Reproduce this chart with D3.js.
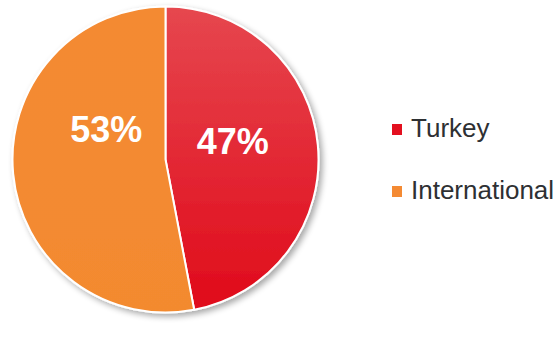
<!DOCTYPE html>
<html><head><meta charset="utf-8">
<script src="https://cdn.jsdelivr.net/npm/d3@7/dist/d3.min.js"></script>
<style>body{margin:0;background:#fff;}svg{display:block;}</style>
</head><body>
<script>
const categories = ["Turkey", "International"];
const values = [47, 53];
const labels = ["47%", "53%"];

const W = 558, H = 347;
const cx = 165.5, cy = 159.5, R = 153;
const svg = d3.select("body").append("svg").attr("width", W).attr("height", H);
const defs = svg.append("defs");
const g1 = defs.append("linearGradient").attr("id","gT").attr("x1",0).attr("y1",0).attr("x2",0).attr("y2",1);
g1.append("stop").attr("offset","0%").attr("stop-color","#e6474f");
g1.append("stop").attr("offset","100%").attr("stop-color","#e00a1a");
const g2 = defs.append("linearGradient").attr("id","gI").attr("x1",0).attr("y1",0).attr("x2",0).attr("y2",1);
g2.append("stop").attr("offset","0%").attr("stop-color","#f48a33");
g2.append("stop").attr("offset","100%").attr("stop-color","#f38a2f");
const f = defs.append("filter").attr("id","sh").attr("x","-20%").attr("y","-20%").attr("width","140%").attr("height","140%");
f.append("feGaussianBlur").attr("in","SourceAlpha").attr("stdDeviation",3);
f.append("feOffset").attr("dx",3).attr("dy",3).attr("result","b");
f.append("feComponentTransfer").append("feFuncA").attr("type","linear").attr("slope",0.35);
const m = f.append("feMerge"); m.append("feMergeNode"); m.append("feMergeNode").attr("in","SourceGraphic");

const color = d3.scaleOrdinal().domain(categories).range(["url(#gT)","url(#gI)"]);
const legendColor = d3.scaleOrdinal().domain(categories).range(["#e3101f","#f48a33"]);
const pie = d3.pie().sort(null).value(d => d.v);
const data = categories.map((c,i)=>({c, v: values[i], l: labels[i]}));
const arcs = pie(data);
const arc = d3.arc().innerRadius(0).outerRadius(R);
const gp = svg.append("g").attr("transform",`translate(${cx},${cy})`);
gp.append("g").attr("filter","url(#sh)").selectAll("path").data(arcs).enter().append("path")
  .attr("d", arc).attr("fill", d => color(d.data.c)).attr("stroke","#fff").attr("stroke-width",2);
const labelArc = d3.arc().innerRadius(R*0.5).outerRadius(R*0.5);
const labelOffset = d3.scaleOrdinal().domain(categories).range([[-9,2],[17,-25]]);
gp.selectAll("text").data(arcs).enter().append("text")
  .attr("x", d => labelArc.centroid(d)[0] + labelOffset(d.data.c)[0])
  .attr("y", d => labelArc.centroid(d)[1] + labelOffset(d.data.c)[1])
  .attr("text-anchor","middle")
  .attr("font-family","Liberation Sans, Arial, sans-serif").attr("font-weight","bold")
  .attr("font-size",36).attr("fill","#fff").text(d => d.data.l);

const lg = svg.append("g");
const ly = d3.scalePoint().domain(categories).range([137, 199]);
const items = lg.selectAll("g").data(categories).enter().append("g")
  .attr("transform", d => `translate(392,${ly(d)})`);
items.append("rect").attr("x",0).attr("y",-13).attr("width",10).attr("height",11).attr("fill", d => legendColor(d));
items.append("text").attr("x",19).attr("y",0)
  .attr("font-family","Liberation Sans, Arial, sans-serif").attr("font-size",26).attr("fill","#2e3033").text(d=>d);
</script>
</body></html>
